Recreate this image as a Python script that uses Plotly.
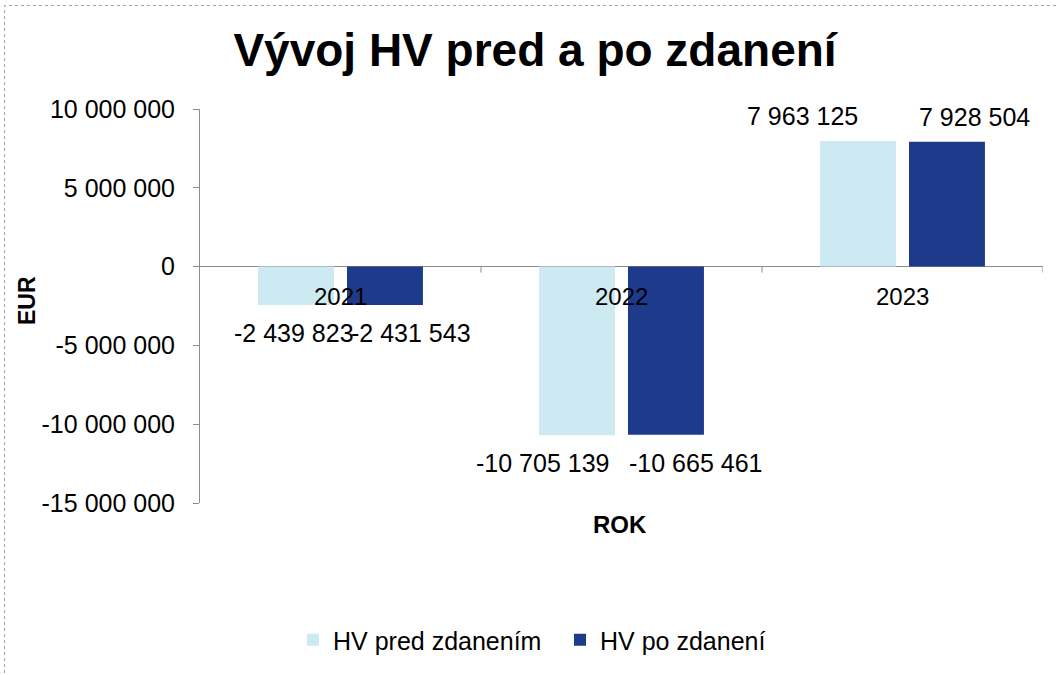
import plotly.graph_objects as go

# ---------------- data ----------------
categories = ["2021", "2022", "2023"]
hv_pred_zdanenim = [-2439823, -10705139, 7963125]
hv_po_zdaneni = [-2431543, -10665461, 7928504]
series_names = ["HV pred zdanením", "HV po zdanení"]
y_tick_values = [10000000, 5000000, 0, -5000000, -10000000, -15000000]
y_tick_labels = ["10 000 000", "5 000 000", "0", "-5 000 000", "-10 000 000", "-15 000 000"]
title_text = "Vývoj HV pred a po zdanení"
y_axis_title = "EUR"
x_axis_title = "ROK"

# ---------------- style ----------------
FONT = "Liberation Sans, Arial, Helvetica, sans-serif"
COLORS = ["#cde9f2", "#1e3b8b"]
AXIS_GREY = "#8c8c8c"
LABEL_XSHIFT = [[-47, -79, -100], [70, 74, 72]]  # data-label offsets (px) per series/category

W, H = 1056, 675
# plot area in screen pixels
PX_L, PX_R, PX_T, PX_B = 200, 1043, 109, 503
ML, MT = PX_L, PX_T
MR, MB = W - PX_R, H - PX_B
PW, PH = PX_R - PX_L, PX_B - PX_T


def px_to_paper_x(px):
    return (px - PX_L) / PW


def px_to_paper_y(py):
    return (PX_B - py) / PH


def fmt(v):
    return f"{v:,}".replace(",", " ")


series = [hv_pred_zdanenim, hv_po_zdaneni]

fig = go.Figure()
for name, vals, col in zip(series_names, series, COLORS):
    fig.add_trace(go.Bar(
        x=categories, y=vals, name=name,
        marker=dict(color=col, line=dict(width=0)),
        hoverinfo="x+y",
    ))

annotations = []
# data labels
for si, vals in enumerate(series):
    for ci, v in enumerate(vals):
        annotations.append(dict(
            x=ci, y=v, xref="x", yref="y",
            text=fmt(v), showarrow=False,
            xanchor="center", yanchor="middle",
            xshift=LABEL_XSHIFT[si][ci],
            yshift=25 if v >= 0 else -28,
            font=dict(family=FONT, size=25, color="black"),
        ))
# category labels (sitting at the zero line)
for ci, cat in enumerate(categories):
    annotations.append(dict(
        x=ci, y=0, xref="x", yref="y", text=cat, showarrow=False,
        xanchor="center", yanchor="middle", yshift=-30,
        font=dict(family=FONT, size=24, color="black"),
    ))
# axis titles
annotations.append(dict(
    x=px_to_paper_x(27), y=px_to_paper_y(301), xref="paper", yref="paper",
    text=y_axis_title, showarrow=False, textangle=-90,
    xanchor="center", yanchor="middle",
    font=dict(family=FONT, size=23, color="black", weight="bold"),
))
annotations.append(dict(
    x=px_to_paper_x(620), y=px_to_paper_y(524), xref="paper", yref="paper",
    text=x_axis_title, showarrow=False,
    xanchor="center", yanchor="middle",
    font=dict(family=FONT, size=24, color="black", weight="bold"),
))

shapes = []
# category boundary ticks on the zero line
for i in range(len(categories)):
    shapes.append(dict(
        type="line", xref="x", yref="y", ysizemode="pixel", yanchor=0,
        x0=i + 0.5, x1=i + 0.5, y0=0, y1=-6,
        line=dict(color=AXIS_GREY, width=1),
    ))
# chart border (left/top visible)
shapes.append(dict(
    type="rect", xref="paper", yref="paper", layer="below",
    x0=px_to_paper_x(4.5), x1=px_to_paper_x(1070), y0=px_to_paper_y(690), y1=px_to_paper_y(5.5),
    line=dict(color="#a0a0a0", width=1, dash="dot"), fillcolor="rgba(0,0,0,0)",
))

fig.update_layout(
    width=W, height=H, autosize=False,
    margin=dict(l=ML, r=MR, t=MT, b=MB, pad=0),
    paper_bgcolor="white", plot_bgcolor="white",
    font=dict(family=FONT, color="black", size=25),
    title=dict(
        text=title_text, x=535 / W, xanchor="center", xref="container",
        y=1 - 50 / H, yanchor="middle", yref="container",
        font=dict(family=FONT, size=46, color="black", weight="bold"),
    ),
    barmode="group", bargap=0.367, bargroupgap=0.146,
    showlegend=True,
    legend=dict(
        orientation="h", x=px_to_paper_x(560), xanchor="center",
        y=px_to_paper_y(640), yanchor="middle",
        entrywidth=222, entrywidthmode="pixels",
        font=dict(family=FONT, size=25, color="black"),
        bgcolor="rgba(0,0,0,0)", itemclick=False, itemdoubleclick=False,
    ),
    xaxis=dict(
        type="category", categoryorder="array", categoryarray=categories,
        range=[-0.5, len(categories) - 0.5], autorange=False,
        showticklabels=False, showgrid=False, zeroline=False,
        showline=False, ticks="", fixedrange=True,
    ),
    yaxis=dict(
        range=[-15000000, 10000000], autorange=False,
        tickvals=y_tick_values, ticktext=y_tick_labels,
        showgrid=False, zeroline=True, zerolinecolor=AXIS_GREY, zerolinewidth=1,
        showline=True, linecolor=AXIS_GREY, linewidth=1,
        ticks="outside", ticklen=6, tickcolor=AXIS_GREY, tickwidth=1,
        ticklabelstandoff=13,
        tickfont=dict(family=FONT, size=25, color="black"),
        fixedrange=True,
    ),
    annotations=annotations,
    shapes=shapes,
)

fig.write_html(
    "out.html",
    config={"displayModeBar": False},
    post_script="document.body.style.margin='0';",
)
